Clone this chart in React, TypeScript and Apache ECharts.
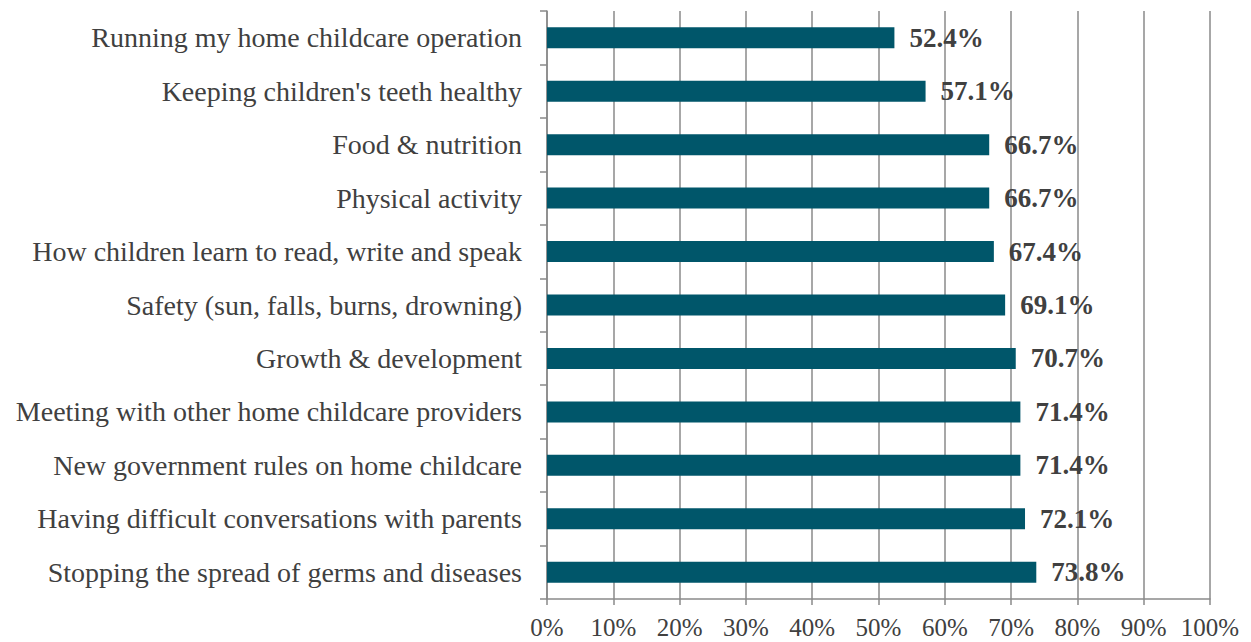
import React, { useEffect, useRef } from "react";
import * as echarts from "echarts";

const categories = [
  "Running my home childcare operation",
  "Keeping children's teeth healthy",
  "Food & nutrition",
  "Physical activity",
  "How children learn to read, write and speak",
  "Safety (sun, falls, burns, drowning)",
  "Growth & development",
  "Meeting with other home childcare providers",
  "New government rules on home childcare",
  "Having difficult conversations with parents",
  "Stopping the spread of germs and diseases",
];
const values = [52.4, 57.1, 66.7, 66.7, 67.4, 69.1, 70.7, 71.4, 71.4, 72.1, 73.8];

export default function App() {
  const ref = useRef<HTMLDivElement>(null);
  useEffect(() => {
    document.body.style.margin = "0";
    const chart = echarts.init(ref.current!, null, { renderer: "svg" });
    const font = "'Liberation Serif', 'DejaVu Serif', serif";
    chart.setOption({
      animation: false,
      backgroundColor: "#ffffff",
      grid: { left: 547, right: 41, top: 11, bottom: 43, containLabel: false },
      xAxis: {
        type: "value",
        min: 0,
        max: 100,
        interval: 10,
        axisLine: { show: true, lineStyle: { color: "#8a8a8a", width: 1.5 } },
        axisTick: { show: true, length: 6, lineStyle: { color: "#8a8a8a", width: 1.5 } },
        splitLine: { show: true, lineStyle: { color: "#8a8a8a", width: 1.5 } },
        axisLabel: {
          formatter: "{value}%",
          fontFamily: font,
          fontSize: 25,
          color: "#404040",
          margin: 16,
        },
      },
      yAxis: {
        type: "category",
        inverse: true,
        data: categories,
        axisLine: { show: true, lineStyle: { color: "#8a8a8a", width: 1.5 } },
        axisTick: { show: true, length: 7, lineStyle: { color: "#8a8a8a", width: 1.5 } },
        axisLabel: {
          fontFamily: font,
          fontSize: 28,
          color: "#404040",
          margin: 25,
        },
      },
      series: [
        {
          type: "bar",
          data: values,
          barWidth: 21,
          itemStyle: { color: "#00566a" },
          label: {
            show: true,
            position: "right",
            distance: 15,
            formatter: (p: any) => p.value.toFixed(1) + "%",
            fontFamily: font,
            fontSize: 27,
            fontWeight: "bold",
            color: "#404040",
          },
        },
      ],
    });
    return () => chart.dispose();
  }, []);
  return <div ref={ref} style={{ width: 1251, height: 642 }} />;
}
